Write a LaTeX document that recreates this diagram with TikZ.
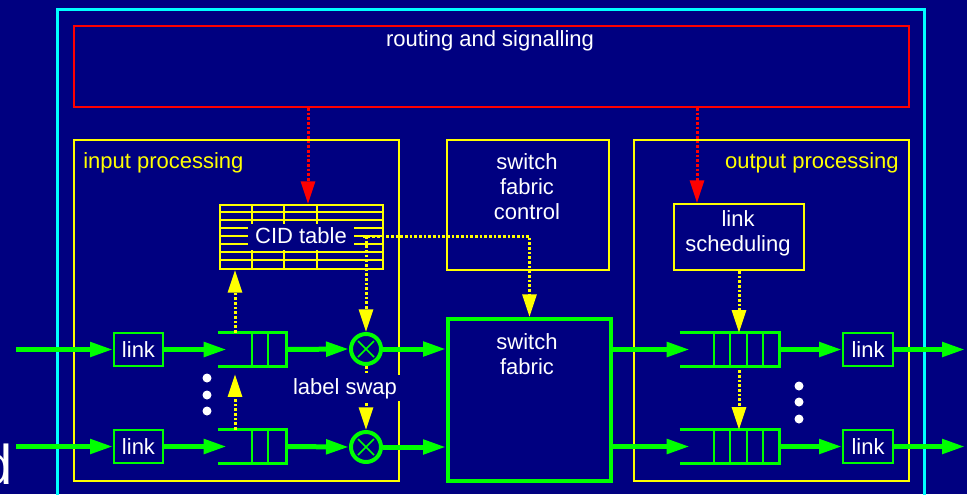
\documentclass[tikz,border=0pt]{standalone}
\usepackage{fontspec}
\setmainfont{Liberation Sans}
\usetikzlibrary{arrows.meta}
\definecolor{navy}{RGB}{0,0,128}
\definecolor{grn}{RGB}{0,255,0}
\definecolor{yel}{RGB}{255,255,0}
\definecolor{rd}{RGB}{255,0,0}
\definecolor{cyn}{RGB}{0,255,255}
\begin{document}
\begin{tikzpicture}[x=0.75pt,y=-0.75pt,
  font=\fontsize{16.5}{18.75}\selectfont,
  sz/.style 2 args={minimum width=#1*0.75pt, minimum height=#2*0.75pt, inner sep=0pt},
  ybox/.style={draw=yel, line width=1.5pt},
  gtip/.style={-{Triangle[length=17.25pt,width=10.5pt]}},
  gflow/.style={draw=grn, line width=3.75pt, gtip},
  ydot/.style={draw=yel, line width=2.25pt, dash pattern=on 2pt off 1.5pt, -{Triangle[length=17pt,width=10.5pt]}},
  rdot/.style={draw=rd, line width=2.25pt, dash pattern=on 2pt off 1.5pt, -{Triangle[length=17pt,width=10.5pt]}},
  linkbox/.style={sz={49}{33}, draw=grn, line width=1.5pt, text=white},
  qout/.style={draw=grn, line width=2.25pt},
  qin/.style={draw=grn, line width=1.25pt},
  xring/.style={circle, draw=grn, line width=3pt, minimum size=22.5pt, inner sep=0pt},
  wtxt/.style={text=white},
  covtxt/.style={fill=navy, text=white, text height=12.4pt, text depth=3.3pt}
]
% background and frame
\path[use as bounding box, fill=navy] (0,0) rectangle (967,494);
\draw[cyn, line width=2.25pt] (57.5,9.5) rectangle (924.5,530);
\node[text=white, font=\fontsize{42}{42}\selectfont, anchor=base east, inner sep=0pt] (dfrag) at (13,484) {d};

% boxes
\node[sz={835}{81}, draw=rd, line width=1.5pt, anchor=north west] (routing) at (73,25) {};
\node[wtxt] (routingtxt) at (490,41) {routing and signalling};

\node[sz={325}{341}, ybox, anchor=north west] (inbox) at (73,139) {};
\node[text=yel, anchor=base west, inner sep=0pt] (intxt) at (83,168) {input processing};

\node[sz={162}{130}, ybox, anchor=north west] (ctrl) at (446,139) {};
\node[wtxt, align=center] (ctrltxt) at (527,187) {switch\\fabric\\control};

\node[sz={275}{341}, ybox, anchor=north west] (outbox) at (633,139) {};
\node[text=yel, anchor=base east, inner sep=0pt] (outtxt) at (899,168) {output processing};

\node[sz={130}{66}, ybox, anchor=north west] (sched) at (673,203) {};
\node[wtxt, align=center] (schedtxt) at (738,233) {link\\scheduling};

% CID table
\node[sz={163}{64}, ybox, anchor=north west] (table) at (219,204) {};
\foreach \y in {212,220,228,236,244,252,260} \draw[yel, line width=1.5pt] (219,\y) -- (382,\y);
\foreach \x in {252,284,317} \draw[yel, line width=1.5pt] (\x,204) -- (\x,268);
\node[covtxt, inner xsep=5.3pt, inner ysep=2pt] (cidtxt) at (301,237) {CID table};

% switch fabric
\node[sz={163}{162}, draw=grn, line width=3pt, anchor=north west] (fabric) at (446,317) {};
\node[wtxt, align=center] (fabtxt) at (527,354) {switch\\fabric};

% links
\node[linkbox] (il1) at (138.5,349.5) {link};
\node[linkbox] (il2) at (138.5,446.5) {link};
\node[linkbox, sz={50}{33}] (ol1) at (868,349.5) {link};
\node[linkbox, sz={50}{33}] (ol2) at (868,446.5) {link};

% input queues
\foreach \q/\yy in {iq1/349.5, iq2/446.5} {
  \node[sz={68}{33}] (\q) at (252,\yy) {};
  \draw[qout] (\q.north west) -- (\q.north east) -- (\q.south east) -- (\q.south west);
  \draw[qin] (\q.north) -- (\q.south) ([xshift=12pt]\q.north) -- ([xshift=12pt]\q.south);
}
% output queues
\foreach \q/\yy in {oq1/349.5, oq2/446.5} {
  \node[sz={99}{33}] (\q) at (729.5,\yy) {};
  \draw[qout] (\q.north west) -- (\q.north east) -- (\q.south east) -- (\q.south west);
  \foreach \d in {34,50,67,83}
    \draw[qin] ([xshift=\d*0.75pt]\q.north west) -- ([xshift=\d*0.75pt]\q.south west);
}
% label swap rings
\foreach \c/\yy in {c1/349, c2/447} {
  \node[xring] (\c) at (366,\yy) {};
  \draw[qin] ([shift={(-8,-8)}]\c.center) -- ([shift={(8,8)}]\c.center)
             ([shift={(-8,8)}]\c.center) -- ([shift={(8,-8)}]\c.center);
}

% dots
\foreach \y in {378,395,411} \fill[white] (207,\y) circle (4.5);
\foreach \y in {386,402,419} \fill[white] (799,\y) circle (4.5);

% free ends
\coordinate (in1) at (16,349.5);
\coordinate (in2) at (16,446.5);
\coordinate (out1) at (965,349.5);
\coordinate (out2) at (965,446.5);

% data flow
\foreach \i in {1,2} {
  \draw[gflow] (in\i) -- (il\i.west);
  \draw[gflow] (il\i.east) -- ([xshift=6.75pt]iq\i.west);
  \draw[gflow] (iq\i.east) -- (c\i.west);
  \draw[gflow] (c\i.east) -- (c\i.east -| fabric.west);
  \draw[gflow] (fabric.east |- oq\i) -- ([xshift=7.5pt]oq\i.west);
  \draw[gflow] (oq\i.east) -- (ol\i.west);
  \draw[gflow] (ol\i.east) -- (out\i);
}

% control (yellow dotted)
\coordinate (xa) at (235,0);
\coordinate (iq1b) at ([yshift=-6pt]iq1.south);
\coordinate (tc) at (366,236);
\coordinate (tc2) at (363,236);
\coordinate (oq1b) at ([yshift=-3pt]oq1.south);
\draw[ydot] (iq1.north -| xa) -- (table.south -| xa);
\draw[ydot] (iq2.north -| xa) -- (iq1b -| xa);
\draw[ydot] (c1 |- tc) -- (c1.north);
\draw[ydot] (tc2) -| (fabric.north);
\draw[ydot] (c1.south) -- (c2.north);
\draw[ydot] (sched.south) -- (oq1.north -| sched);
\draw[ydot] (oq1b -| sched) -- (oq2.north -| sched);

% routing (red dotted)
\coordinate (ra) at (308,0);
\coordinate (rb) at (697,0);
\draw[rdot] (routing.south -| ra) -- (table.north -| ra);
\draw[rdot] (routing.south -| rb) -- (sched.north -| rb);

\node[covtxt, inner xsep=2pt, inner ysep=2pt, anchor=base] (swaptxt) at (345,394) {label swap};
\end{tikzpicture}
\end{document}
